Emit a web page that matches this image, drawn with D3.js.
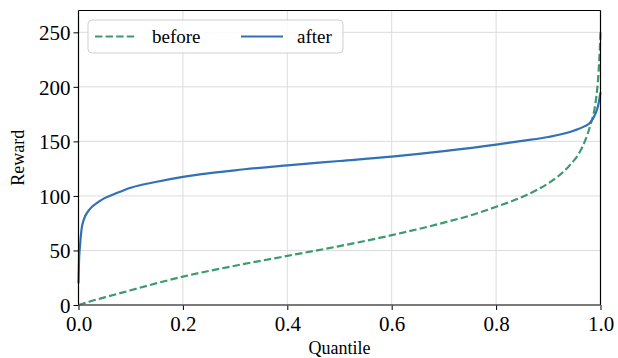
<!DOCTYPE html>
<html>
<head>
<meta charset="utf-8">
<script src="https://cdn.jsdelivr.net/npm/d3@7"></script>
<style>
  body { margin: 0; background: #fff; }
  text { font-family: "Liberation Serif", "DejaVu Serif", serif; fill: #000; }
</style>
</head>
<body>
<div id="chart"></div>
<script>
// quantile curves
const beforeQ = [0, 0.02, 0.05, 0.1, 0.15, 0.2, 0.3, 0.4, 0.5, 0.6, 0.7, 0.75, 0.8, 0.85, 0.88, 0.9, 0.92, 0.94, 0.95, 0.96, 0.97, 0.98, 0.99, 0.995, 0.998, 1.0];
const beforeR = [0, 3, 7, 13.5, 20, 26, 36, 45, 54, 64, 75.5, 82, 90, 99, 106, 111.5, 118.5, 127.5, 133, 140, 150, 164, 184, 205, 228, 250];

const afterQ = [0, 0.001, 0.003, 0.006, 0.01, 0.02, 0.035, 0.05, 0.07, 0.1, 0.15, 0.2, 0.3, 0.4, 0.5, 0.6, 0.7, 0.8, 0.85, 0.9, 0.95, 0.97, 0.98, 0.99, 0.995, 1.0];
const afterR = [20, 40, 55, 70, 78, 87, 93.5, 98, 102, 107.5, 113, 117.5, 123.5, 128, 132, 136, 141, 147, 150.5, 154, 160, 164, 167, 175, 182, 195];

const xTicks = [0, 0.2, 0.4, 0.6, 0.8, 1.0];
const yTicks = [0, 50, 100, 150, 200, 250];

const width = 618, height = 358;
const margin = { top: 10.5, right: 17.5, bottom: 53, left: 78.5 };
const greenC = "#3d9a70", blueC = "#3171b5";
const serif = "Liberation Serif, DejaVu Serif, serif";

const svg = d3.select("#chart").append("svg")
    .attr("width", width)
    .attr("height", height);

const x = d3.scaleLinear().domain([0, 1]).range([margin.left, width - margin.right]);
const y = d3.scaleLinear().domain([0, 270]).range([height - margin.bottom, margin.top]);

// grid
svg.append("g").selectAll("line").data(xTicks).join("line")
    .attr("x1", d => x(d)).attr("x2", d => x(d))
    .attr("y1", y(0)).attr("y2", y(270))
    .attr("stroke", "#dcdcdc").attr("stroke-width", 1);
svg.append("g").selectAll("line").data(yTicks).join("line")
    .attr("x1", x(0)).attr("x2", x(1))
    .attr("y1", d => y(d)).attr("y2", d => y(d))
    .attr("stroke", "#dcdcdc").attr("stroke-width", 1);

// lines
const line = d3.line().x(d => x(d[0])).y(d => y(d[1])).curve(d3.curveMonotoneX);

svg.append("path")
    .datum(beforeQ.map((q, i) => [q, beforeR[i]]))
    .attr("d", line)
    .attr("fill", "none")
    .attr("stroke", greenC)
    .attr("stroke-width", 2.2)
    .attr("stroke-dasharray", "7.4,3.2");

svg.append("path")
    .datum(afterQ.map((q, i) => [q, afterR[i]]))
    .attr("d", line)
    .attr("fill", "none")
    .attr("stroke", blueC)
    .attr("stroke-width", 2.2);

// axes
const xAxis = svg.append("g")
    .attr("transform", `translate(0,${y(0)})`)
    .call(d3.axisBottom(x).tickValues(xTicks).tickFormat(d3.format(".1f")).tickSize(5).tickPadding(3));
const yAxis = svg.append("g")
    .attr("transform", `translate(${x(0)},0)`)
    .call(d3.axisLeft(y).tickValues(yTicks).tickSize(5).tickPadding(3));

[xAxis, yAxis].forEach(g => {
    g.attr("font-family", serif).attr("font-size", 21);
    g.select(".domain").remove();
    g.selectAll(".tick line").attr("stroke", "#000").attr("stroke-width", 1);
    g.selectAll("text").style("font-family", serif).style("font-size", "21px");
});
xAxis.selectAll("text").attr("dy", "0.85em");
yAxis.selectAll("text").attr("dy", "0.35em");

// spines
svg.append("line").attr("x1", x(0)).attr("x2", x(0)).attr("y1", y(0)).attr("y2", y(270))
    .attr("stroke", "#000").attr("stroke-width", 1.2);
svg.append("line").attr("x1", x(1)).attr("x2", x(1)).attr("y1", y(0)).attr("y2", y(270))
    .attr("stroke", "#000").attr("stroke-width", 1.2);
svg.append("line").attr("x1", x(0)).attr("x2", x(1)).attr("y1", y(270)).attr("y2", y(270))
    .attr("stroke", "#000").attr("stroke-width", 1.2);
svg.append("line").attr("x1", x(0)).attr("x2", x(1)).attr("y1", y(0)).attr("y2", y(0))
    .attr("stroke", "#555").attr("stroke-width", 1.6);

// axis labels
svg.append("text")
    .attr("x", (x(0) + x(1)) / 2)
    .attr("y", 354)
    .attr("text-anchor", "middle")
    .style("font-size", "18px")
    .text("Quantile");
svg.append("text")
    .attr("transform", `translate(24,${(y(0) + y(270)) / 2}) rotate(-90)`)
    .attr("text-anchor", "middle")
    .style("font-size", "18px")
    .text("Reward");

// legend
const legend = svg.append("g");
legend.append("rect")
    .attr("x", 88).attr("y", 20).attr("width", 255).attr("height", 33).attr("rx", 4)
    .attr("fill", "#fff").attr("fill-opacity", 0.85)
    .attr("stroke", "#d0d0d0").attr("stroke-width", 1);
legend.append("line")
    .attr("x1", 95).attr("x2", 137).attr("y1", 36.5).attr("y2", 36.5)
    .attr("stroke", greenC).attr("stroke-width", 2.2).attr("stroke-dasharray", "7.4,3.2");
legend.append("text").attr("x", 152).attr("y", 42.5).style("font-size", "19px").text("before");
legend.append("line")
    .attr("x1", 241).attr("x2", 283).attr("y1", 36.5).attr("y2", 36.5)
    .attr("stroke", blueC).attr("stroke-width", 2.2);
legend.append("text").attr("x", 297).attr("y", 42.5).style("font-size", "19px").text("after");
</script>
</body>
</html>
